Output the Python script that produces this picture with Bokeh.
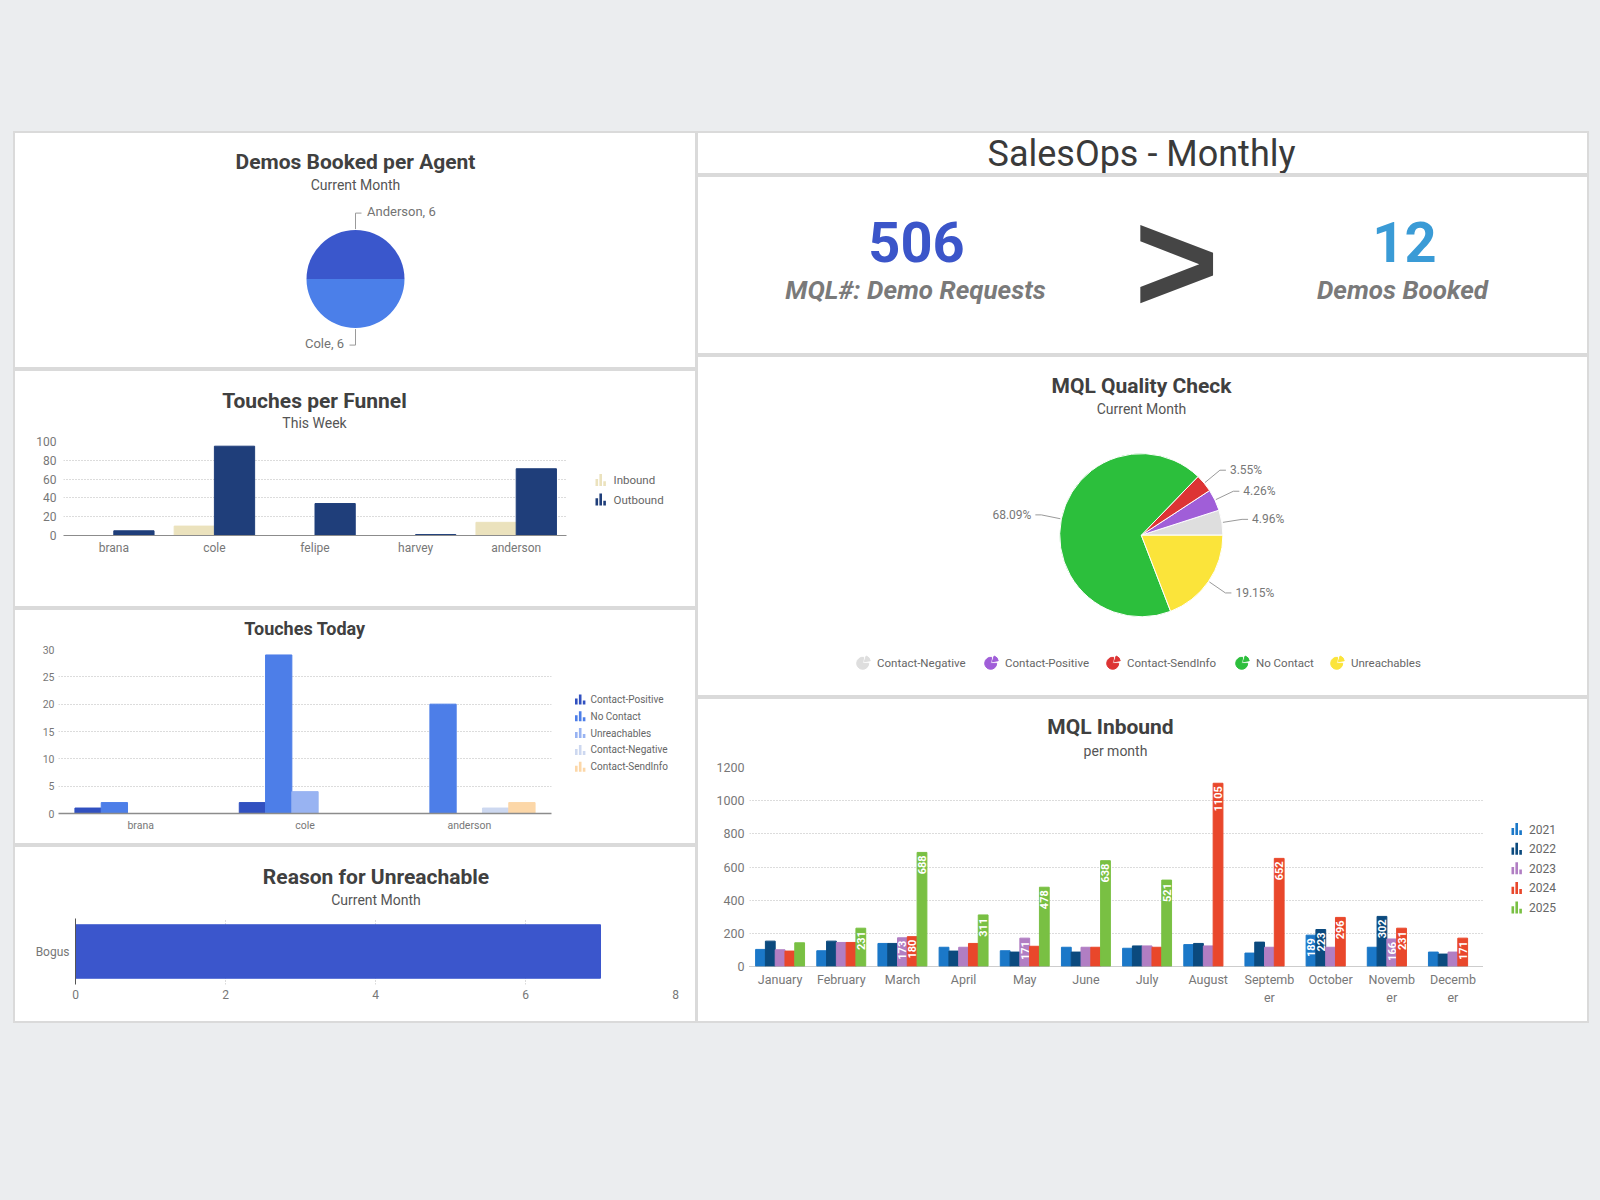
import numpy as np
from bokeh.plotting import figure
from bokeh.layouts import column, row
from bokeh.models import Range1d, FactorRange, FixedTicker
from bokeh.core.properties import value
from bokeh.embed import file_html
from bokeh.resources import INLINE

# ---------------- data ----------------
demo_agents = ["Anderson", "Cole"]
demo_counts = [6, 6]

funnel_agents = ["brana", "cole", "felipe", "harvey", "anderson"]
funnel_inbound = [0, 10, 0, 0, 14]
funnel_outbound = [5, 95, 34, 1, 71]

today_agents = ["brana", "cole", "anderson"]
today_series = ["Contact-Positive", "No Contact", "Unreachables", "Contact-Negative", "Contact-SendInfo"]
today_contact_positive = [1, 2, 0]
today_no_contact = [2, 29, 20]
today_unreachables = [0, 4, 0]
today_contact_negative = [0, 0, 1]
today_contact_sendinfo = [0, 0, 2]

unreach_reasons = ["Bogus"]
unreach_counts = [7]

mql_demo_requests = 506
demos_booked = 12

quality_categories = ["Contact-Negative", "Contact-Positive", "Contact-SendInfo", "No Contact", "Unreachables"]
quality_counts = [14, 12, 10, 192, 54]

months = ["January", "February", "March", "April", "May", "June", "July",
          "August", "September", "October", "November", "December"]
month_labels = ["January", "February", "March", "April", "May", "June", "July",
                "August", "Septemb\ner", "October", "Novemb\ner", "Decemb\ner"]
mql_years = ["2021", "2022", "2023", "2024", "2025"]
mql_2021 = [103, 95, 139, 116, 95, 116, 110, 132, 81, 189, 116, 87]
mql_2022 = [153, 153, 139, 93, 87, 87, 124, 139, 147, 223, 302, 75]
mql_2023 = [101, 145, 173, 116, 171, 116, 124, 124, 116, 116, 166, 87]
mql_2024 = [93, 145, 180, 139, 122, 116, 116, 1105, 652, 296, 231, 171]
mql_2025 = [143, 231, 688, 311, 478, 638, 521, None, None, None, None, None]

# ---------------- styling ----------------
FONT = "Roboto"
TITLE_C = "#404040"
SUB_C = "#555555"
TICK_C = "#777777"
LEG_C = "#666666"
GRID_C = "#b8b8b8"
PANEL_STYLE = {"box-shadow": "0 0 0 2px #dadada", "background-color": "white"}

demo_colors = ["#3a57cc", "#4b7fe9"]
funnel_colors = ["#ebe2bd", "#1f3e7a"]
today_colors = ["#3150c0", "#4d7ee8", "#98b3f2", "#cdd8f0", "#fcd7a8"]
quality_colors = ["#dedede", "#a05ed8", "#dd3434", "#2cbf3c", "#fbe43a"]
mql_colors = ["#1b78c8", "#0b4a7e", "#b17ec3", "#e9472b", "#79c043"]


def canvas(w, h, styles=None):
    p = figure(width=w, height=h, x_range=Range1d(0, w), y_range=Range1d(0, h),
               x_axis_type=None, y_axis_type=None, toolbar_location=None,
               output_backend="svg", min_border=0, outline_line_color=None,
               background_fill_color="white", border_fill_color="white")
    if styles:
        p.styles = styles
    return p


def label(p, x, y, s, size, color, style="normal", align="center", baseline="middle",
          angle=0.0, font=FONT):
    p.text(x=[x], y=[y], text=[s], angle=angle,
           text_font=value(font), text_font_size=value(f"{size}px"),
           text_font_style=value(style), text_color=color,
           text_align=value(align), text_baseline=value(baseline))


def chart(w, h, xr, yr, left, right, top, bottom, tick_size=12):
    p = figure(width=w, height=h, x_range=xr, y_range=yr, toolbar_location=None,
               output_backend="svg", min_border_left=left, min_border_right=right,
               min_border_top=top, min_border_bottom=bottom, outline_line_color=None,
               background_fill_color="white", border_fill_color="white")
    for ax in list(p.xaxis) + list(p.yaxis):
        ax.major_label_text_font = FONT
        ax.major_label_text_font_size = f"{tick_size}px"
        ax.major_label_text_color = TICK_C
        ax.major_tick_line_color = None
        ax.minor_tick_line_color = None
        ax.major_tick_out = 0
        ax.major_tick_in = 0
        ax.axis_line_color = None
    p.xgrid.visible = False
    p.ygrid.grid_line_color = GRID_C
    p.ygrid.grid_line_dash = "1 2"
    return p


def bar_icon(p, x, yc, color, h=12):
    bw, gap = 2.6, 1.3
    fr = [0.6, 1.0, 0.4]
    lefts = [x + i * (bw + gap) for i in range(3)]
    p.quad(left=lefts, right=[l + bw for l in lefts],
           bottom=[yc - h / 2] * 3, top=[yc - h / 2 + h * f for f in fr],
           color=color, line_color=None)


def pie(p, cx, cy, r, counts, colors, line_color=None):
    ang = np.concatenate([[0.0], np.cumsum(counts)]) / float(sum(counts)) * 2 * np.pi
    p.wedge(x=cx, y=cy, radius=r, start_angle=list(ang[:-1]), end_angle=list(ang[1:]),
            fill_color=colors, line_color=line_color, line_width=1)
    return ang


def pie_labels(p, cx, cy, r, ang, texts, elbow, seg, gap, size, color, lift=0.0):
    for i, t in enumerate(texts):
        mid = 0.5 * (ang[i] + ang[i + 1])
        ux, uy = np.cos(mid), np.sin(mid)
        if abs(ux) < 1e-6:
            d = 1 if uy > 0 else -1
        else:
            d = 1 if ux > 0 else -1
        ex, ey = cx + (r + 1) * ux, cy + (r + 1) * uy
        qx, qy = cx + elbow * ux, cy + elbow * uy
        p.line(x=[ex, qx, qx + seg * d], y=[ey, qy, qy], line_color="#9a9a9a", line_width=1)
        label(p, qx + (seg + gap) * d, qy + lift, t, size, color,
              align="left" if d > 0 else "right")


# ---------------- Demos Booked per Agent ----------------
p1 = canvas(680, 234, PANEL_STYLE)
label(p1, 340, 206, "Demos Booked per Agent", 21, TITLE_C, "bold")
label(p1, 340, 183, "Current Month", 14, SUB_C)
a1 = pie(p1, 340, 88.4, 49, demo_counts, demo_colors)
pie_labels(p1, 340, 88.4, 49, a1, [f"{n}, {c}" for n, c in zip(demo_agents, demo_counts)],
           elbow=49 + 17, seg=6, gap=5.5, size=13, color="#737373", lift=1.5)

# ---------------- Touches per Funnel ----------------
p2t = canvas(680, 62)
label(p2t, 299, 33, "Touches per Funnel", 21, TITLE_C, "bold")
label(p2t, 299, 10.5, "This Week", 14, SUB_C)

p2c = chart(555, 173, Range1d(-0.5, 4.5), Range1d(0, 100), 48, 4, 8, 71)
idx = np.arange(len(funnel_agents))
p2c.vbar(x=idx - 0.2, top=funnel_inbound, width=0.4, color=funnel_colors[0])
p2c.vbar(x=idx + 0.2, top=funnel_outbound, width=0.4, color=funnel_colors[1])
p2c.xaxis.ticker = FixedTicker(ticks=list(range(len(funnel_agents))))
p2c.xaxis.major_label_overrides = {i: a for i, a in enumerate(funnel_agents)}
p2c.xaxis.axis_line_color = "#8c8c8c"
p2c.yaxis.ticker = FixedTicker(ticks=[0, 20, 40, 60, 80, 100])
p2c.yaxis.major_label_standoff = 7

p2l = canvas(125, 173)
for k, (nm, yy) in enumerate(zip(["Inbound", "Outbound"], [126.4, 107])):
    bar_icon(p2l, 25, yy, funnel_colors[k])
    label(p2l, 43, yy, nm, 11.5, LEG_C, align="left")

panel2 = column(p2t, row(p2c, column(p2l)), styles=PANEL_STYLE)

# ---------------- Touches Today ----------------
p3t = canvas(680, 31)
label(p3t, 289.5, 13.4, "Touches Today", 18, TITLE_C, "bold")

p3c = chart(540, 202, Range1d(-0.5, 2.5), Range1d(0, 30), 43, 4, 8, 30, tick_size=10.5)
today_values = [today_contact_positive, today_no_contact, today_unreachables,
                today_contact_negative, today_contact_sendinfo]
offs = [-0.32, -0.16, 0.0, 0.16, 0.32]
tidx = np.arange(len(today_agents))
for k, vals in enumerate(today_values):
    p3c.vbar(x=tidx + offs[k], top=vals, width=0.16, color=today_colors[k])
p3c.xaxis.ticker = FixedTicker(ticks=list(range(len(today_agents))))
p3c.xaxis.major_label_overrides = {i: a for i, a in enumerate(today_agents)}
p3c.xaxis.axis_line_color = "#8c8c8c"
p3c.xaxis.axis_line_width = 1.5
p3c.yaxis.ticker = FixedTicker(ticks=[0, 5, 10, 15, 20, 25, 30])
p3c.yaxis.major_label_standoff = 4

p3l = canvas(140, 202)
for k, nm in enumerate(today_series):
    yy = 144 - k * 16.8
    bar_icon(p3l, 19.5, yy, today_colors[k], h=10)
    label(p3l, 35, yy, nm, 10, LEG_C, align="left")

panel3 = column(p3t, row(p3c, column(p3l)), styles=PANEL_STYLE)

# ---------------- Reason for Unreachable ----------------
p4t = canvas(680, 63)
label(p4t, 360.5, 34, "Reason for Unreachable", 21, TITLE_C, "bold")
label(p4t, 360.5, 11, "Current Month", 14, SUB_C)

p4c = chart(680, 111, Range1d(0, 8), FactorRange(factors=unreach_reasons), 60, 20, 8, 37)
p4c.hbar(y=unreach_reasons, left=0, right=unreach_counts, height=0.81, color="#3b56cc")
p4c.ygrid.visible = False
p4c.xgrid.visible = True
p4c.xgrid.grid_line_color = GRID_C
p4c.xgrid.grid_line_dash = "1 2"
p4c.xaxis.ticker = FixedTicker(ticks=[0, 2, 4, 6, 8])
p4c.yaxis.axis_line_color = "#555555"
p4c.yaxis.major_label_standoff = 6

panel4 = column(p4t, row(p4c), styles=PANEL_STYLE)

# ---------------- header + KPIs ----------------
pt = canvas(889, 40, PANEL_STYLE)
label(pt, 443, 20, "SalesOps - Monthly", 36, "#3a3a3a")

pk = canvas(889, 176, PANEL_STYLE)
label(pk, 218, 112, str(mql_demo_requests), 56, "#3b55c9", "bold")
label(pk, 217, 64, "MQL#: Demo Requests", 26, "#7a7a7a", "bold italic")
label(pk, 478, 92, ">", 145, "#454545", "bold", font="Liberation Sans")
label(pk, 706, 112, str(demos_booked), 56, "#3a9bd6", "bold")
label(pk, 704, 64, "Demos Booked", 26, "#7a7a7a", "bold italic")

# ---------------- MQL Quality Check ----------------
pq = canvas(889, 338, PANEL_STYLE)
label(pq, 443, 310, "MQL Quality Check", 21, TITLE_C, "bold")
label(pq, 443, 287, "Current Month", 14, SUB_C)
qcx, qcy, qr = 442.8, 160.3, 81.6
aq = pie(pq, qcx, qcy, qr, quality_counts, quality_colors, line_color="white")
tot = float(sum(quality_counts))
pie_labels(pq, qcx, qcy, qr, aq, [f"{100 * c / tot:.2f}%" for c in quality_counts],
           elbow=1.25 * qr, seg=6, gap=4, size=12, color="#777777")
leg_icon_x = [165, 293, 415, 544, 639]
for k, nm in enumerate(quality_categories):
    ix = leg_icon_x[k]
    pq.wedge(x=ix - 0.8, y=32.2, radius=6, start_angle=0.45 * np.pi, end_angle=2 * np.pi,
             color=quality_colors[k])
    pq.wedge(x=ix + 0.8, y=33.8, radius=6, start_angle=0.05 * np.pi, end_angle=0.4 * np.pi,
             color=quality_colors[k])
    label(pq, ix + 13.5, 33, nm, 11.5, LEG_C, align="left")

# ---------------- MQL Inbound ----------------
pmt = canvas(889, 60)
label(pmt, 412, 32.5, "MQL Inbound", 21, TITLE_C, "bold")
label(pmt, 417, 9, "per month", 14, SUB_C)

pm = chart(789, 262, Range1d(-0.5, 11.5), Range1d(0, 1200), 51, 4, 8, 55, tick_size=12.5)
mql_series = [mql_2021, mql_2022, mql_2023, mql_2024, mql_2025]
for k, vals in enumerate(mql_series):
    xs = [i + offs[k] for i, v in enumerate(vals) if v is not None]
    ys = [v for v in vals if v is not None]
    pm.vbar(x=xs, top=ys, width=0.16, color=mql_colors[k])
    lx = [x for x, v in zip(xs, ys) if v >= 160]
    lv = [v for v in ys if v >= 160]
    if lv:
        pm.text(x=lx, y=[v - 18 for v in lv], text=[str(v) for v in lv], angle=np.pi / 2,
                text_font=value(FONT), text_font_size=value("11px"),
                text_font_style=value("bold"), text_color="white",
                text_align=value("right"), text_baseline=value("middle"))
pm.xaxis.ticker = FixedTicker(ticks=list(range(12)))
pm.xaxis.major_label_overrides = {i: m for i, m in enumerate(month_labels)}
pm.xaxis.axis_line_color = "#9a9a9a"
pm.xaxis.axis_line_dash = "1 1"
pm.yaxis.ticker = FixedTicker(ticks=[0, 200, 400, 600, 800, 1000, 1200])
pm.yaxis.major_label_standoff = 5

pml = canvas(100, 262)
for k, yr in enumerate(mql_years):
    yy = 192.4 - k * 19.6
    bar_icon(pml, 24, yy, mql_colors[k], h=12)
    label(pml, 41.6, yy, yr, 12, LEG_C, align="left")

panel_mql = column(pmt, row(pm, column(pml)), styles=PANEL_STYLE)

# ---------------- page layout ----------------
left = column(p1, panel2, panel3, panel4, spacing=4)
right = column(pt, pk, pq, panel_mql, spacing=4)
body = row(left, right, spacing=3, margin=(133, 0, 0, 15))
page = column(body, width=1600, height=1200, styles={"background-color": "#ebedef"})

open("out.html", "w").write(file_html(page, INLINE))
